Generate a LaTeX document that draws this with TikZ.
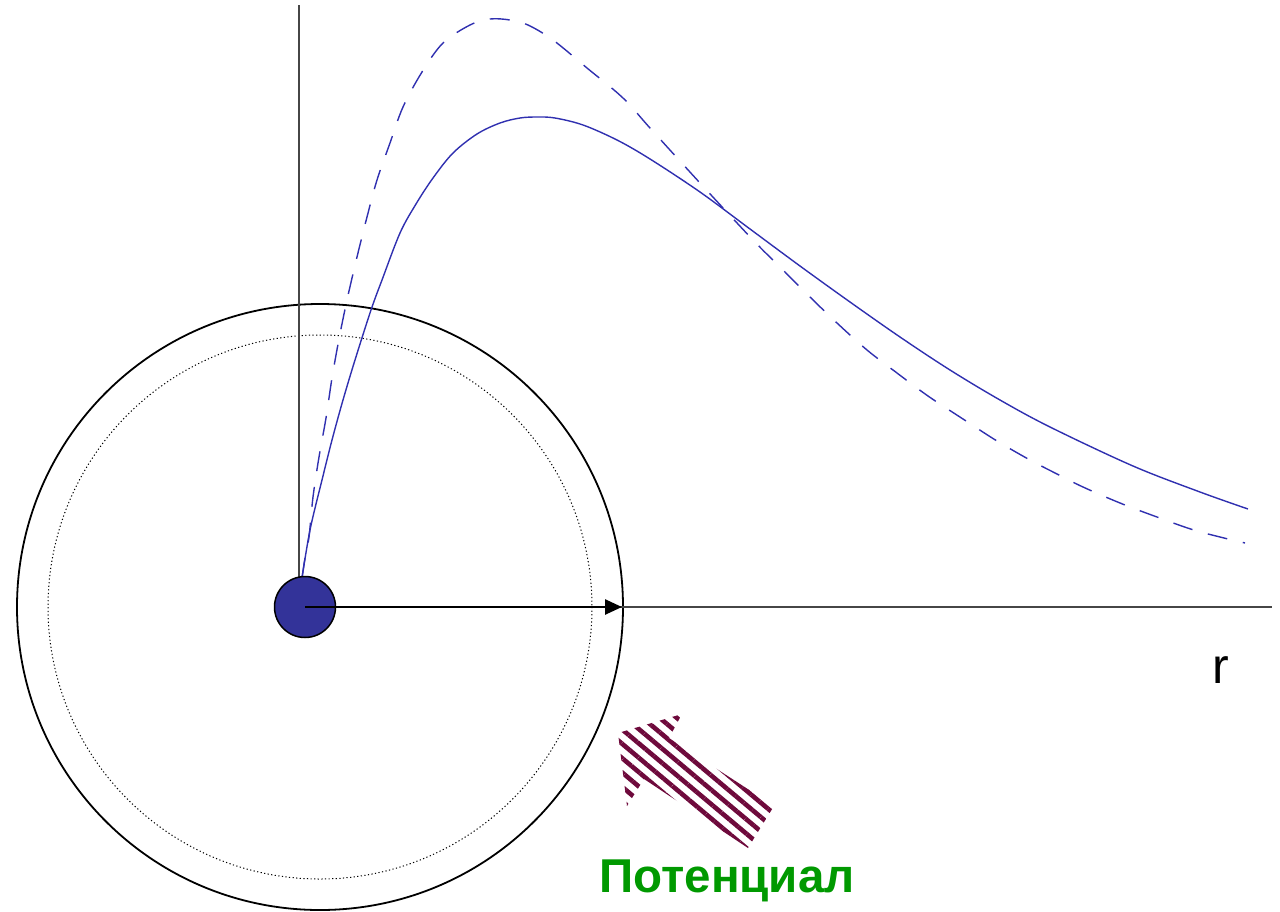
\documentclass[tikz,border=0pt]{standalone}
\usepackage{fontspec}
\setmainfont{Liberation Sans}
\usetikzlibrary{arrows.meta,patterns.meta}
\definecolor{curveblue}{RGB}{48,48,176}
\definecolor{nucblue}{RGB}{51,51,153}
\definecolor{axisgray}{RGB}{70,70,70}
\definecolor{stripe}{RGB}{110,10,60}
\definecolor{labgreen}{RGB}{0,153,0}
\tikzset{
  axisline/.style={draw=axisgray, line width=2pt},
  shell/.style={draw=black, line width=1.8pt},
  shelldot/.style={draw=black, line width=1pt, dash pattern=on 1.2pt off 2.4pt},
  solidcurve/.style={draw=curveblue, line width=1.4pt},
  dashcurve/.style={draw=curveblue, line width=1.4pt, dash pattern=on 20pt off 16pt},
  nucleus/.style={circle, fill=nucblue, draw=black, line width=1.5pt, minimum size=61pt, inner sep=0pt},
  radius arrow/.style={draw=black, line width=2.6pt, -{Triangle[length=17pt,width=15pt]}},
  hatch/.style={pattern={Lines[angle=-40,distance=11pt,line width=4.6pt]}, pattern color=stripe},
}
\begin{document}
\begin{tikzpicture}[x=1pt,y=-1pt]
\useasboundingbox (0,0) rectangle (1280,911);
% shells
\coordinate (shc) at (320,607);
\draw[shell] (shc) circle[radius=303];
\draw[shelldot] (shc) circle[radius=272];
% axes
\coordinate (ytop) at (299,5);
\coordinate (ybot) at (299,580);
\coordinate (xleft) at (305,607);
\coordinate (xright) at (1272,607);
\draw[axisline] (ybot) -- (ytop);
\draw[axisline] (xleft) -- (xright);
% solid curve
\draw[solidcurve] plot[smooth, tension=0.55] coordinates {
(302,578) (310,530) (322,480) (332,440) (343,400) (355,360) (371,310) (382,280)
(400,233) (416,204) (433,178) (453,153) (477,134) (500,123) (520,118) (537,117)
(555,118) (583,125) (617,140) (650,159) (700,192) (750,229) (800,266) (850,302)
(900,337) (950,370) (1000,400) (1050,427) (1133,466) (1200,492) (1248,509)};
% dashed curve
\draw[dashcurve] plot[smooth, tension=0.55] coordinates {
(302,578) (305,558) (309,537) (313,497) (319,457) (326,418) (332,378) (339,339) (347,300)
(357,257) (367,217) (377,180) (390,143) (403,107) (422,72) (443,43) (470,25)
(490,19) (510,20) (528,25) (553,40) (587,68) (623,98) (650,128) (700,183)
(753,240) (780,267) (810,297) (837,323) (867,350) (897,373) (928,396) (963,419)
(997,441) (1030,460) (1057,474) (1083,487) (1120,503) (1157,517) (1197,531) (1245,543)};
% nucleus and radius arrow
\node[nucleus] (nuc) at (305,607) {};
\coordinate (rend) at (622,607);
\draw[radius arrow] (nuc.center) -- (rend);
% label r
\node[font=\fontsize{50}{50}\selectfont, anchor=base] (rlab) at (1221,683) {r};
% hatched arrow
\path[hatch] (618,733) -- (682,714) -- (669,738) -- (774,806) -- (748,848) -- (644,779) -- (627,806) -- cycle;
% label
\node[font=\fontsize{47.5}{47.5}\selectfont\bfseries, text=labgreen, anchor=base] (pot) at (727,892) {Потенциал};
\end{tikzpicture}
\end{document}
